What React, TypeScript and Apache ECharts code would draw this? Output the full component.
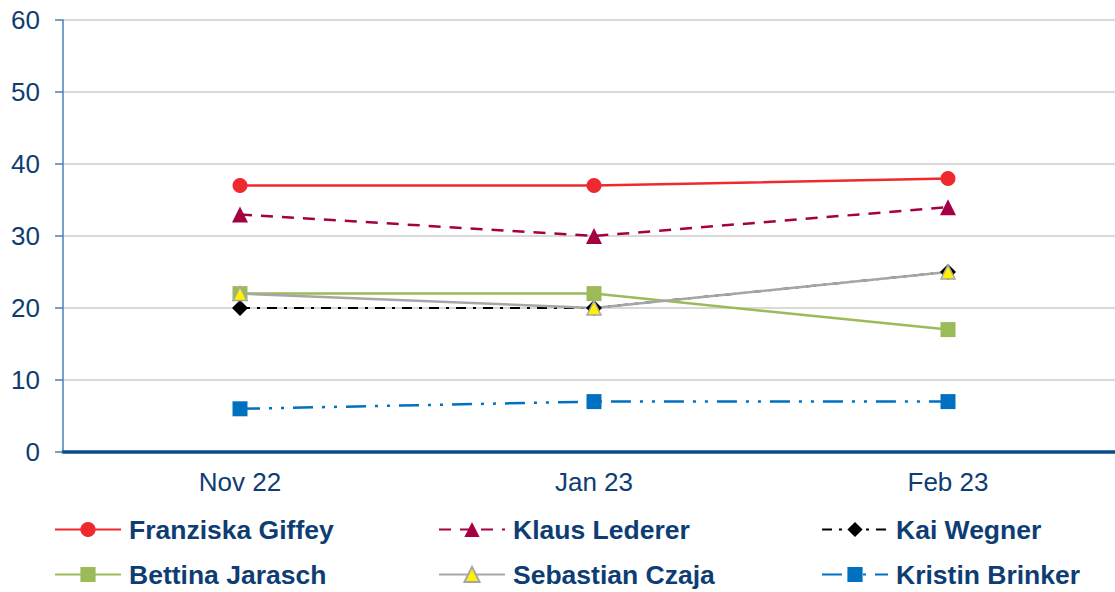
import React, { useEffect, useRef } from 'react';
import * as echarts from 'echarts';

const categories = ['Nov 22', 'Jan 23', 'Feb 23'];
const giffey = [37, 37, 38];
const lederer = [33, 30, 34];
const wegner = [20, 20, 25];
const jarasch = [22, 22, 17];
const czaja = [22, 20, 25];
const brinker = [6, 7, 7];

const names = [
  'Franziska Giffey',
  'Klaus Lederer',
  'Kai Wegner',
  'Bettina Jarasch',
  'Sebastian Czaja',
  'Kristin Brinker',
];

const textColor = '#0E3D73';
const font = 'Liberation Sans, Arial, sans-serif';

export default function App() {
  const ref = useRef<HTMLDivElement>(null);
  useEffect(() => {
    if (!ref.current) return;
    const chart = echarts.init(ref.current, undefined, { renderer: 'svg' });
    const legendPos = [
      { left: 54, top: 516 },
      { left: 438, top: 516 },
      { left: 821, top: 516 },
      { left: 54, top: 561 },
      { left: 438, top: 561 },
      { left: 821, top: 561 },
    ];
    const legends = names.map((n, i) => ({
      data: [n],
      left: legendPos[i].left,
      top: legendPos[i].top,
      padding: 0,
      itemWidth: 66,
      itemHeight: 19,
      selectedMode: false,
      textStyle: {
        fontSize: 26.5,
        fontWeight: 'bold',
        color: textColor,
        fontFamily: font,
        padding: [0, 0, 0, 3],
      },
    }));
    chart.setOption({
      animation: false,
      backgroundColor: '#ffffff',
      grid: {
        left: 63,
        top: 20,
        width: 1062,
        height: 432,
        containLabel: false,
        outerBoundsMode: 'none',
      },
      legend: legends,
      xAxis: {
        type: 'category',
        data: categories,
        boundaryGap: true,
        axisLine: { show: true, lineStyle: { color: '#0B4A8B', width: 3.5 } },
        axisTick: { show: false },
        axisLabel: { fontSize: 26, color: textColor, margin: 17, fontFamily: font },
        splitLine: { show: false },
      },
      yAxis: {
        type: 'value',
        min: 0,
        max: 60,
        interval: 10,
        axisLine: { show: true, lineStyle: { color: '#4A7EBB', width: 1.5 } },
        axisTick: { show: true, length: 8, lineStyle: { color: '#4A7EBB', width: 1.5 } },
        axisLabel: { fontSize: 26, color: textColor, margin: 23, fontFamily: font },
        splitLine: { show: true, lineStyle: { color: '#D9D9D9', width: 2 } },
      },
      series: [
        {
          name: names[0],
          type: 'line',
          data: giffey,
          symbol: 'circle',
          symbolSize: 15,
          itemStyle: { color: '#EE2A2E' },
          lineStyle: { color: '#EE2A2E', width: 2.5, type: 'solid' },
        },
        {
          name: names[1],
          type: 'line',
          data: lederer,
          symbol: 'triangle',
          symbolSize: 16,
          itemStyle: { color: '#A50044' },
          lineStyle: { color: '#A50044', width: 2.5, type: [12, 9] },
        },
        {
          name: names[2],
          type: 'line',
          data: wegner,
          symbol: 'diamond',
          symbolSize: 16,
          itemStyle: { color: '#000000' },
          lineStyle: { color: '#000000', width: 2, type: [10, 7, 3, 7] },
        },
        {
          name: names[3],
          type: 'line',
          data: jarasch,
          symbol: 'rect',
          symbolSize: 15,
          itemStyle: { color: '#9BBB59' },
          lineStyle: { color: '#9BBB59', width: 2.5, type: 'solid' },
        },
        {
          name: names[4],
          type: 'line',
          data: czaja,
          symbol: 'triangle',
          symbolSize: 14,
          itemStyle: { color: '#FFF200', borderColor: '#A6A6A6', borderWidth: 1.5 },
          lineStyle: { color: '#A6A6A6', width: 2.5, type: 'solid' },
        },
        {
          name: names[5],
          type: 'line',
          data: brinker,
          symbol: 'rect',
          symbolSize: 15,
          itemStyle: { color: '#0070C0' },
          lineStyle: { color: '#0070C0', width: 2.5, type: [20, 9, 3, 9, 3, 9] },
        },
      ],
    });
    return () => chart.dispose();
  }, []);
  return (
    <div
      ref={ref}
      style={{ position: 'fixed', left: 0, top: 0, width: 1115, height: 592, background: '#fff' }}
    />
  );
}
